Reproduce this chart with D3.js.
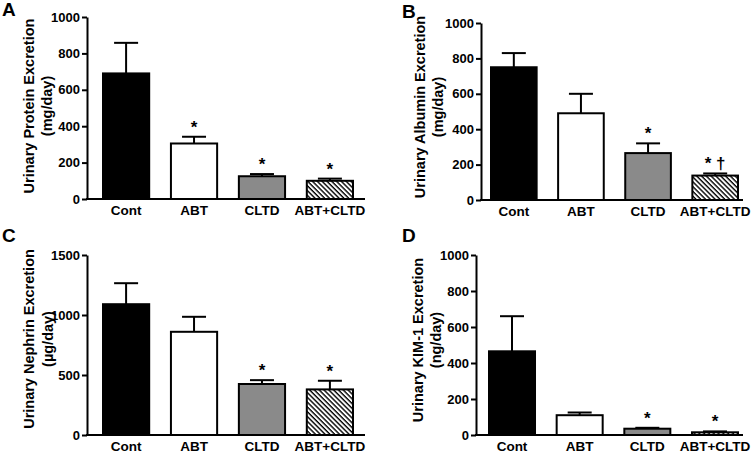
<!DOCTYPE html>
<html>
<head>
<meta charset="utf-8">
<script src="https://cdn.jsdelivr.net/npm/d3@7"></script>
<style>
  body { margin: 0; background: #fff; }
  svg { display: block; font-family: "Liberation Sans", Arial, sans-serif; font-weight: bold; }
</style>
</head>
<body>
<script>
// groups on the x axis
var categories = ["Cont", "ABT", "CLTD", "ABT+CLTD"];

// A: urinary protein (mg/day)
var proteinMean = [690, 305, 125, 100];
var proteinSem = [168, 37, 12, 12];
var proteinMarks = ["", "*", "*", "*"];

// B: urinary albumin (mg/day)
var albuminMean = [750, 490, 265, 138];
var albuminSem = [80, 110, 55, 12];
var albuminMarks = ["", "", "*", "* \u2020"];

// C: urinary nephrin (ug/day)
var nephrinMean = [1090, 860, 425, 380];
var nephrinSem = [175, 125, 32, 72];
var nephrinMarks = ["", "", "*", "*"];

// D: urinary KIM-1 (ng/day)
var kimMean = [465, 110, 35, 15];
var kimSem = [195, 15, 5, 5];
var kimMarks = ["", "", "*", "*"];

var ticks1000 = [0, 200, 400, 600, 800, 1000];
var ticks1500 = [0, 500, 1000, 1500];

var fills = ["#000", "#fff", "#8a8a8a", "url(#hatch)"];

var svg = d3.select("body").append("svg")
  .attr("width", 753)
  .attr("height", 453);

// diagonal hatching for the combined group
var pat = svg.append("defs").append("pattern")
  .attr("id", "hatch")
  .attr("patternUnits", "userSpaceOnUse")
  .attr("width", 3.4)
  .attr("height", 10)
  .attr("patternTransform", "rotate(-45)");
pat.append("rect").attr("width", 3.4).attr("height", 10).attr("fill", "#fff");
pat.append("line")
  .attr("x1", 1).attr("y1", 0).attr("x2", 1).attr("y2", 10)
  .attr("stroke", "#000").attr("stroke-width", 1.4);

function drawPanel(p) {
  var g = svg.append("g");

  var x = d3.scaleBand()
    .domain(categories)
    .range([p.barStart, p.barEnd])
    .paddingInner(0.32)
    .paddingOuter(0);

  var y = d3.scaleLinear()
    .domain([0, p.max])
    .range([p.bottom, p.top]);

  // bars
  g.selectAll("rect.bar")
    .data(p.mean)
    .enter().append("rect")
    .attr("class", "bar")
    .attr("x", function (d, i) { return x(categories[i]); })
    .attr("y", function (d) { return y(d); })
    .attr("width", x.bandwidth())
    .attr("height", function (d) { return y(0) - y(d); })
    .attr("fill", function (d, i) { return fills[i]; })
    .attr("stroke", "#000")
    .attr("stroke-width", 2);

  // error bars (upper only)
  var cap = 12;
  p.mean.forEach(function (m, i) {
    var cx = x(categories[i]) + x.bandwidth() / 2;
    var top = y(m + p.sem[i]);
    g.append("line")
      .attr("x1", cx).attr("x2", cx)
      .attr("y1", y(m)).attr("y2", top)
      .attr("stroke", "#000").attr("stroke-width", 2);
    g.append("line")
      .attr("x1", cx - cap).attr("x2", cx + cap)
      .attr("y1", top).attr("y2", top)
      .attr("stroke", "#000").attr("stroke-width", 2);
    if (p.marks[i]) {
      g.append("text")
        .attr("x", cx)
        .attr("y", top - 4)
        .attr("text-anchor", "middle")
        .attr("font-size", 17)
        .text(p.marks[i]);
    }
  });

  // y axis
  var ya = g.append("g")
    .attr("transform", "translate(" + p.left + ",0)")
    .call(d3.axisLeft(y).tickValues(p.ticks).tickFormat(d3.format("d"))
      .tickSize(5).tickSizeOuter(0).tickPadding(2));
  ya.selectAll("path, line").attr("stroke-width", 2);
  ya.selectAll("text")
    .attr("font-size", 13)
    .attr("font-family", "Liberation Sans, Arial, sans-serif")
    .attr("font-weight", "bold")
    .attr("fill", "#000");

  // x axis baseline and category labels
  g.append("line")
    .attr("x1", p.left - 1).attr("x2", p.right)
    .attr("y1", y(0)).attr("y2", y(0))
    .attr("stroke", "#000").attr("stroke-width", 2);
  var xa = g.append("g")
    .attr("transform", "translate(0," + y(0) + ")")
    .call(d3.axisBottom(x).tickSize(0).tickPadding(6));
  xa.select(".domain").remove();
  xa.selectAll("text")
    .attr("font-size", 13.5)
    .attr("font-family", "Liberation Sans, Arial, sans-serif")
    .attr("font-weight", "bold")
    .attr("fill", "#000");

  // y axis title (two lines)
  p.title.forEach(function (t, k) {
    g.append("text")
      .attr("transform", "translate(" + p.titleX[k] + "," + p.titleY + ") rotate(-90)")
      .attr("text-anchor", "middle")
      .attr("dy", "0.35em")
      .attr("font-size", 14.5)
      .text(t);
  });

  // panel letter
  g.append("text")
    .attr("x", p.letterX)
    .attr("y", p.letterY)
    .attr("font-size", 19)
    .text(p.letter);
}

drawPanel({
  letter: "A", letterX: 2, letterY: 16,
  mean: proteinMean, sem: proteinSem, marks: proteinMarks,
  max: 1000, ticks: ticks1000,
  left: 87, right: 365, top: 17, bottom: 199, barStart: 103, barEnd: 353,
  title: ["Urinary Protein Excretion", "(mg/day)"], titleX: [29, 47], titleY: 106
});

drawPanel({
  letter: "B", letterX: 402, letterY: 18,
  mean: albuminMean, sem: albuminSem, marks: albuminMarks,
  max: 1000, ticks: ticks1000,
  left: 481, right: 743, top: 23, bottom: 200, barStart: 491, barEnd: 738,
  title: ["Urinary Albumin Excretion", "(mg/day)"], titleX: [420, 438], titleY: 107
});

drawPanel({
  letter: "C", letterX: 2, letterY: 242,
  mean: nephrinMean, sem: nephrinSem, marks: nephrinMarks,
  max: 1500, ticks: ticks1500,
  left: 87, right: 365, top: 255, bottom: 435, barStart: 103, barEnd: 353,
  title: ["Urinary Nephrin Excretion", "(\u00b5g/day)"], titleX: [29, 48], titleY: 339
});

drawPanel({
  letter: "D", letterX: 402, letterY: 242,
  mean: kimMean, sem: kimSem, marks: kimMarks,
  max: 1000, ticks: ticks1000,
  left: 476, right: 743, top: 255, bottom: 435, barStart: 489, barEnd: 738,
  title: ["Urinary KIM-1 Excretion", "(ng/day)"], titleX: [418, 436], titleY: 340
});
</script>
</body>
</html>
